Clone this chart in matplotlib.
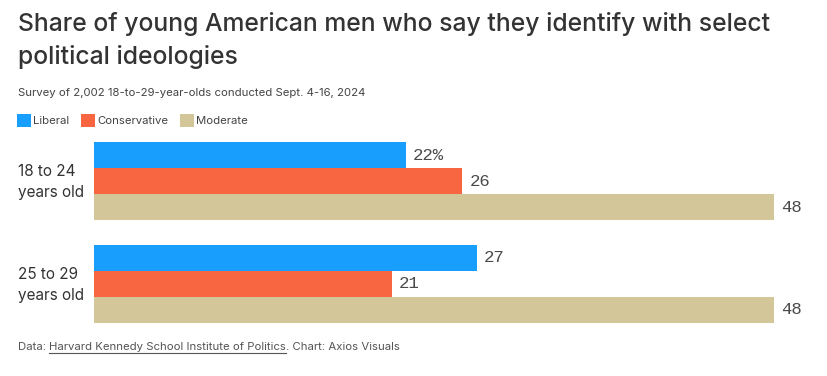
import matplotlib
matplotlib.use("Agg")
import matplotlib.pyplot as plt
from matplotlib.patches import Rectangle
import matplotlib.transforms as mtransforms

categories = ["18 to 24\nyears old", "25 to 29\nyears old"]
series_names = ["Liberal", "Conservative", "Moderate"]
liberal = [22, 27]
conservative = [26, 21]
moderate = [48, 48]
colors = ["#189FFD", "#F76541", "#D3C79A"]

W, H = 827, 376
fig = plt.figure(figsize=(W / 100, H / 100), dpi=100)
fig.patch.set_facecolor("white")

def fx(px):
    return px / W

def fy(py):
    return 1 - py / H

# axes: x 94..774 px maps 0..48 ; y 142..323 px
ax = fig.add_axes([fx(94), fy(323), fx(774) - fx(94), (323 - 142) / H])
gap = 25 / 26
group_step = 3 + gap
vals = [liberal, conservative, moderate]
label_off = mtransforms.ScaledTranslation(7.5 / 100, 0, fig.dpi_scale_trans)
for j, (name, v, c) in enumerate(zip(series_names, vals, colors)):
    ys = [i * group_step + j for i in range(len(categories))]
    ax.barh(ys, v, height=1.0, color=c, edgecolor="none", label=name)
    for i, (y, val) in enumerate(zip(ys, v)):
        lab = f"{val}%" if (i == 0 and j == 0) else f"{val}"
        ax.text(val, y, lab, va="center", ha="left",
                fontsize=12.5, family=["Liberation Mono", "DejaVu Sans Mono"],
                color="#4a4a4a", transform=ax.transData + label_off)

ax.set_xlim(0, 48)
ax.set_ylim(group_step + 2.5, -0.5)
centers = [i * group_step + 1 for i in range(len(categories))]
ax.set_yticks(centers)
ax.set_yticklabels(categories, fontsize=11, color="#333333", ha="left",
                   family="Inter", linespacing=1.5)
ax.tick_params(axis="y", length=0, pad=(94 - 18) * 0.72)
up = mtransforms.ScaledTranslation(0, 3.5 / 100, fig.dpi_scale_trans)
for tl in ax.get_yticklabels():
    tl.set_transform(tl.get_transform() + up)
ax.set_xticks([])
for s in ax.spines.values():
    s.set_visible(False)

# Title
fig.text(fx(18), fy(12), "Share of young American men who say they identify with select\npolitical ideologies",
         ha="left", va="top", fontsize=17.8, color="#333333", family="Inter",
         fontweight="medium", linespacing=1.45)
fig.text(fx(18), fy(93), "Survey of 2,002 18-to-29-year-olds conducted Sept. 4-16, 2024",
         ha="left", va="center", fontsize=8.2, color="#444444", family="Inter")

# Legend
lx = [17, 81, 180]
for x, name, c in zip(lx, series_names, colors):
    fig.patches.append(Rectangle((fx(x), fy(127)), 14 / W, 13 / H, transform=fig.transFigure,
                                 facecolor=c, edgecolor="none"))
    fig.text(fx(x + 16), fy(120.5), name, ha="left", va="center", fontsize=8.2,
             color="#444444", family="Inter")

# Footer
t1 = fig.text(fx(18), fy(347), "Data: ", ha="left", va="center", fontsize=8.2,
              color="#555555", family="Inter")
fig.canvas.draw()
r = fig.canvas.get_renderer()
bb = t1.get_window_extent(r)
t2 = fig.text(bb.x1 / W, fy(347), "Harvard Kennedy School Institute of Politics",
              ha="left", va="center", fontsize=8.2, color="#555555", family="Inter")
bb2 = t2.get_window_extent(r)
fig.add_artist(plt.Line2D([bb2.x0 / W, bb2.x1 / W], [fy(353), fy(353)],
                          transform=fig.transFigure, color="#555555", lw=0.8))
fig.text(bb2.x1 / W, fy(347), ". Chart: Axios Visuals", ha="left", va="center",
         fontsize=8.2, color="#555555", family="Inter")

fig.savefig("out.png", dpi=100, facecolor="white")
